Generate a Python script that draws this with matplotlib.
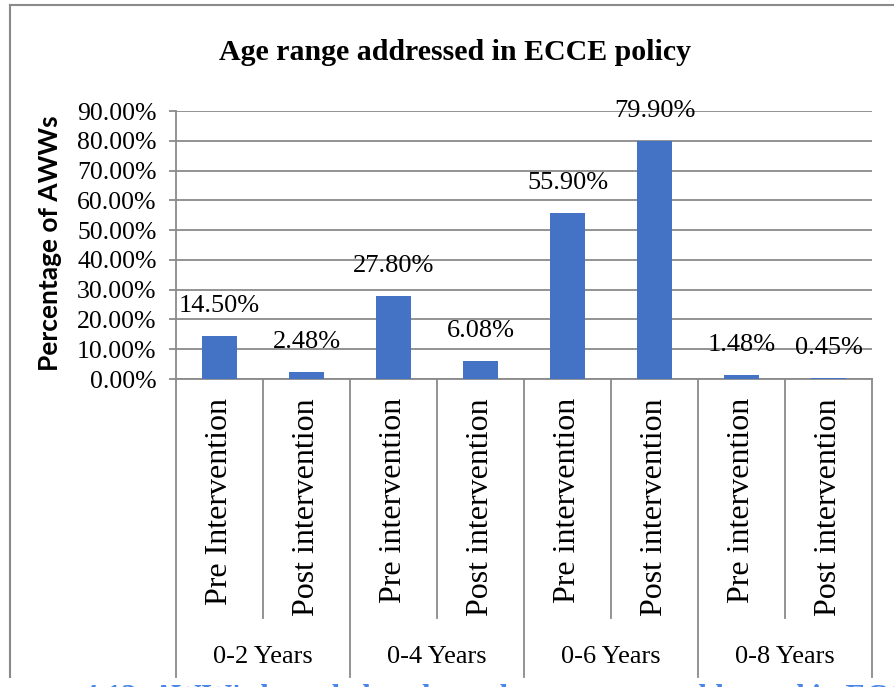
import matplotlib
matplotlib.use("Agg")
import matplotlib.pyplot as plt
from matplotlib.lines import Line2D
import matplotlib.transforms as mtransforms

# ---- data ----
title = "Age range addressed in ECCE policy"
ylabel = "Percentage of AWWs"
sub_labels = ["Pre Intervention", "Post intervention",
              "Pre intervention", "Post intervention",
              "Pre intervention", "Post intervention",
              "Pre intervention", "Post intervention"]
groups = ["0-2 Years", "0-4 Years", "0-6 Years", "0-8 Years"]
values = [14.50, 2.48, 27.80, 6.08, 55.90, 79.90, 1.48, 0.45]
yticks = [0, 10, 20, 30, 40, 50, 60, 70, 80, 90]
caption = "4.12: AWW's knowledge about the age group addressed in ECCE policy"

W, H = 895, 687
fig = plt.figure(figsize=(W / 100, H / 100), dpi=100)
fig.patch.set_facecolor("white")

ax_left, ax_right, ax_top, ax_bot = 176, 872, 111, 379
ax = fig.add_axes([ax_left / W, 1 - ax_bot / H,
                   (ax_right - ax_left) / W, (ax_bot - ax_top) / H])

serif = "Liberation Serif"
grid_c = "#8a8a8a"
bar_c = "#4472C4"

n = len(values)
xs = list(range(n))
ax.bar(xs, values, width=0.4, color=bar_c, zorder=3)
ax.set_xlim(-0.5, n - 0.5)
ax.set_ylim(0, 90)
ax.set_yticks(yticks)
ax.set_yticklabels([f"{t:.2f}%" for t in yticks], fontfamily=serif, fontsize=18.5)
ax.yaxis.grid(True, color=grid_c, linewidth=1.3, zorder=0)
ax.set_xticks([])
for s in ["top", "right"]:
    ax.spines[s].set_visible(False)
ax.spines["left"].set_color(grid_c)
ax.spines["left"].set_linewidth(1.3)
ax.spines["bottom"].set_color(grid_c)
ax.spines["bottom"].set_linewidth(1.3)
ax.tick_params(axis="y", length=5, width=1.3, color=grid_c, pad=9)

# data labels
for x, v in zip(xs, values):
    ax.annotate(f"{v:.2f}%", xy=(x, v), xytext=(0, 21.6),
                textcoords="offset points", ha="center", va="center",
                fontfamily=serif, fontsize=19, zorder=4)

# multi-level category axis
trans = mtransforms.blended_transform_factory(ax.transData, ax.transAxes)
axh = ax_bot - ax_top
inner_end = (ax_bot - 618) / axh
outer_end = (ax_bot - 677) / axh
for k in range(n + 1):
    xb = k - 0.5
    yend = outer_end if k % 2 == 0 else inner_end
    ax.add_line(Line2D([xb, xb], [0, yend], transform=trans, color=grid_c,
                       linewidth=1.3, clip_on=False))

label_top = (ax_bot - 398) / axh
for x, lab in zip(xs, sub_labels):
    ax.text(x, label_top, lab, transform=trans, rotation=90, ha="center",
            va="top", fontfamily=serif, fontsize=23)

group_y = (ax_bot - 657) / axh
for g, lab in enumerate(groups):
    ax.text(2 * g + 0.5, group_y, lab, transform=trans, ha="center",
            va="center", fontfamily=serif, fontsize=19)

# title and axis label
fig.text((222 + 688) / 2 / W, 1 - 52 / H, title, ha="center", va="center",
         fontfamily=serif, fontweight="bold", fontsize=21.5)
fig.text(50 / W, 1 - 243 / H, ylabel, rotation=90, ha="center", va="center",
         fontfamily="Lato", fontweight="bold", fontsize=19)

# chart area border (partially cropped)
fig.add_artist(Line2D([10 / W, 1.0], [1 - 5 / H, 1 - 5 / H],
                      transform=fig.transFigure, color=grid_c, linewidth=1.5))
fig.add_artist(Line2D([10 / W, 10 / W], [1 - 5 / H, 1 - 677 / H],
                      transform=fig.transFigure, color=grid_c, linewidth=1.5))

# caption, cut off at the bottom edge as in the source image
fig.text(83 / W, 1 - 684 / H, caption, ha="left", va="top",
         fontfamily=serif, fontweight="bold", fontsize=22, color="#4a86e8")

fig.savefig("out.png", dpi=100, facecolor="white")
